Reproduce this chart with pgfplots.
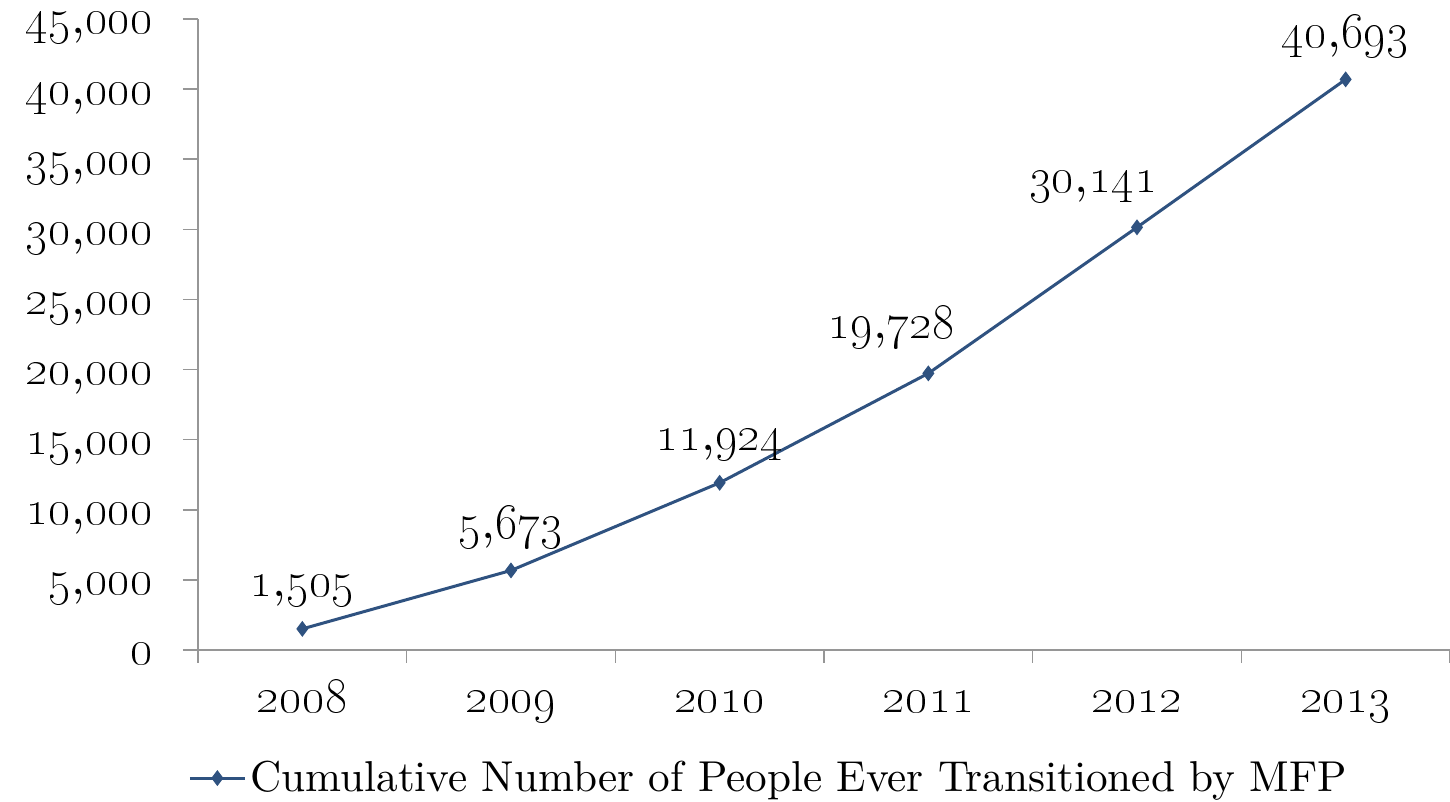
\documentclass[border=0pt]{standalone}
\usepackage{pgfplots}
\pgfplotsset{compat=1.18}
\font\lmtenA="[lmroman10-regular]:mapping=tex-text" at 25pt
\font\lmtenB="[lmroman10-regular]:mapping=tex-text" at 21.6pt
\definecolor{lineblue}{RGB}{47,82,128}
\definecolor{axgray}{RGB}{150,150,150}
\newcommand\ON[2]{\oldstylenums{#1},\oldstylenums{#2}}
\begin{document}
\begin{tikzpicture}
\begin{axis}[
  at={(0,0)}, anchor=south west,
  scale only axis,
  width=626pt, height=315.5pt,
  xmin=-0.5, xmax=5.5,
  ymin=0, ymax=45000,
  scaled y ticks=false,
  axis x line*=bottom, axis y line*=left,
  axis line style={axgray, line width=0.8pt},
  xtick={0,...,5},
  xticklabels={\oldstylenums{2008},\oldstylenums{2009},\oldstylenums{2010},\oldstylenums{2011},\oldstylenums{2012},\oldstylenums{2013}},
  major x tick style={draw=none},
  minor xtick={-0.5,0.5,1.5,2.5,3.5,4.5,5.5},
  minor x tick style={axgray, line width=0.8pt},
  minor tick length=6.5pt,
  ytick={0,5000,...,45000},
  yticklabels={\oldstylenums{0},\ON{5}{000},\ON{10}{000},\ON{15}{000},\ON{20}{000},\ON{25}{000},\ON{30}{000},\ON{35}{000},\ON{40}{000},\ON{45}{000}},
  major y tick style={axgray, line width=0.8pt},
  major tick length=7.5pt,
  tick align=outside,
  xticklabel style={font=\fontsize{25}{30}\selectfont\lmtenA, anchor=base, yshift=-24pt},
  yticklabel style={font=\fontsize{26}{31}\selectfont\lmtenA, inner sep=0pt, anchor=base east, xshift=-14.7pt, yshift=-7.5pt},
  point meta=explicit symbolic,
  nodes near coords,
  nodes near coords style={font=\fontsize{25}{30}\selectfont\lmtenA, anchor=base, yshift=16pt, text=black},
  legend style={draw=none, fill=none, at={(-0.008,-0.203)}, anchor=west, inner sep=0pt,
    font=\fontsize{21.6}{26}\selectfont\lmtenB},
  legend image code/.code={\draw[mark repeat=2,mark phase=2] plot coordinates {(0pt,0pt) (13.75pt,0pt) (27.5pt,0pt)};},
  clip=false,
]
\addplot[lineblue, line width=1.5pt, mark=diamond*, mark size=3.6pt, mark options={fill=lineblue, draw=lineblue, line width=0.5pt}]
coordinates {
  (0,1505) [\ON{1}{505}]
  (1,5673) [\ON{5}{673}]
  (2,11924) [\ON{11}{924}]
  (3,19728) [\raisebox{1.5pt}{\ON{19}{728}}\hspace*{37pt}]
  (4,30141) [\raisebox{1.5pt}{\ON{30}{141}}\hspace*{44pt}]
  (5,40693) [\ON{40}{693}]
};
\addlegendentry{Cumulative Number of People Ever Transitioned by MFP}
\end{axis}
\pgfresetboundingbox
\path (-99pt,-76pt) rectangle (626pt,325pt);
\end{tikzpicture}
\end{document}
